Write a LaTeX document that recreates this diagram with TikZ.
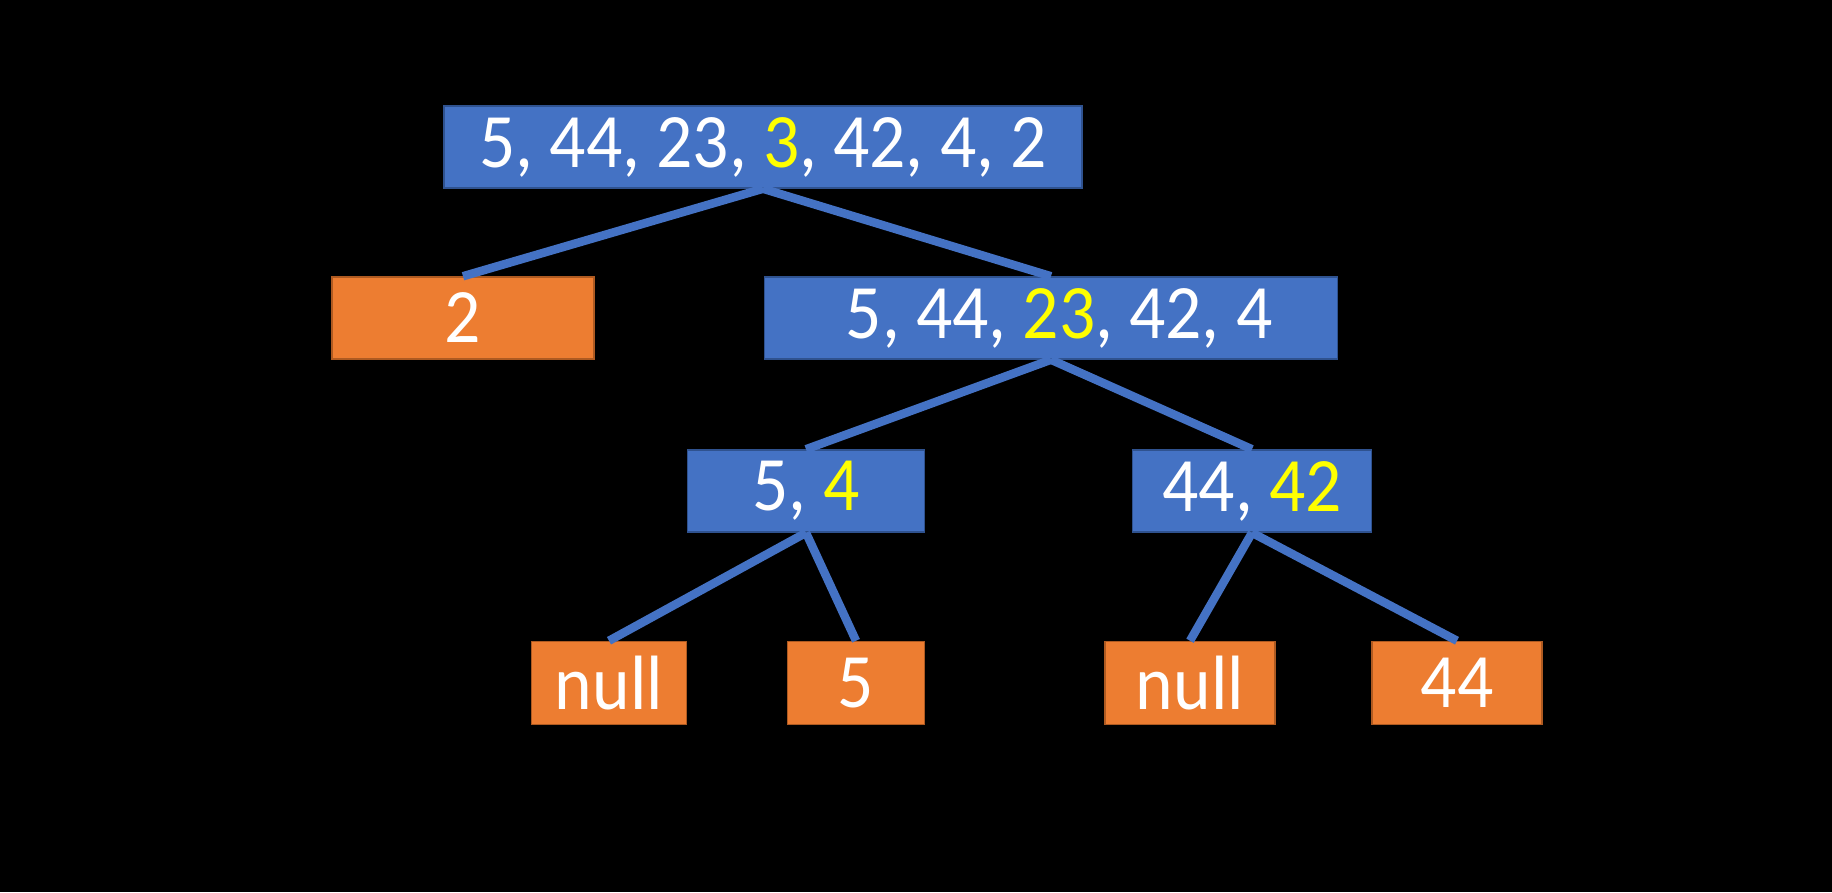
\documentclass[tikz,border=0pt]{standalone}
\usepackage{fontspec}
\setmainfont[FakeStretch=0.93]{Carlito}
\definecolor{nblue}{HTML}{4472C4}
\definecolor{nblueb}{HTML}{2F528F}
\definecolor{norange}{HTML}{ED7D31}
\definecolor{norangeb}{HTML}{AE5A21}
\definecolor{hl}{HTML}{FFFF00}
\newcommand{\hy}[1]{\textcolor{hl}{#1}}
\newcommand{\lbl}[1]{\raisebox{-4pt}{#1}}
\begin{document}
\begin{tikzpicture}[x=1pt,y=-1pt,
  box/.style={inner sep=0pt, line width=1.5pt, text=white,
    font=\fontsize{77}{84}\selectfont},
  bluebox/.style={box, fill=nblue, draw=nblueb},
  orangebox/.style={box, fill=norange, draw=norangeb},
  link/.style={draw=nblue, line width=8.5pt}]
\fill[black] (0,0) rectangle (1832,892);
\useasboundingbox (0,0) rectangle (1832,892);
\node[bluebox, minimum width=638pt, minimum height=82pt] (root) at (763,147) {\lbl{5, 44, 23, \hy{3}, 42, 4, 2}};
\node[orangebox, minimum width=262pt, minimum height=82pt] (two) at (463,318) {\lbl{2}};
\node[bluebox, minimum width=573pt, minimum height=82pt] (mid) at (1051,318) {\lbl{\hspace{16pt}5, 44, \hy{23}, 42, 4}};
\node[bluebox, minimum width=237pt, minimum height=82pt] (fivefour) at (806,491) {\lbl{5, \hy{4}}};
\node[bluebox, minimum width=239pt, minimum height=82pt] (ff) at (1252,491) {\lbl{44, \hy{42}}};
\node[orangebox, minimum width=155pt, minimum height=83pt] (nullA) at (609,683) {\lbl{null}};
\node[orangebox, minimum width=137pt, minimum height=83pt] (five) at (856,683) {\lbl{5}};
\node[orangebox, minimum width=170pt, minimum height=83pt] (nullB) at (1190,683) {\lbl{null}};
\node[orangebox, minimum width=170pt, minimum height=83pt] (ffour) at (1457,683) {\lbl{44}};
\draw[link] (root.south) -- (two.north);
\draw[link] (root.south) -- (mid.north);
\draw[link] (mid.south) -- (fivefour.north);
\draw[link] (mid.south) -- (ff.north);
\draw[link] (fivefour.south) -- (nullA.north);
\draw[link] (fivefour.south) -- (five.north);
\draw[link] (ff.south) -- (nullB.north);
\draw[link] (ff.south) -- (ffour.north);
\end{tikzpicture}
\end{document}
